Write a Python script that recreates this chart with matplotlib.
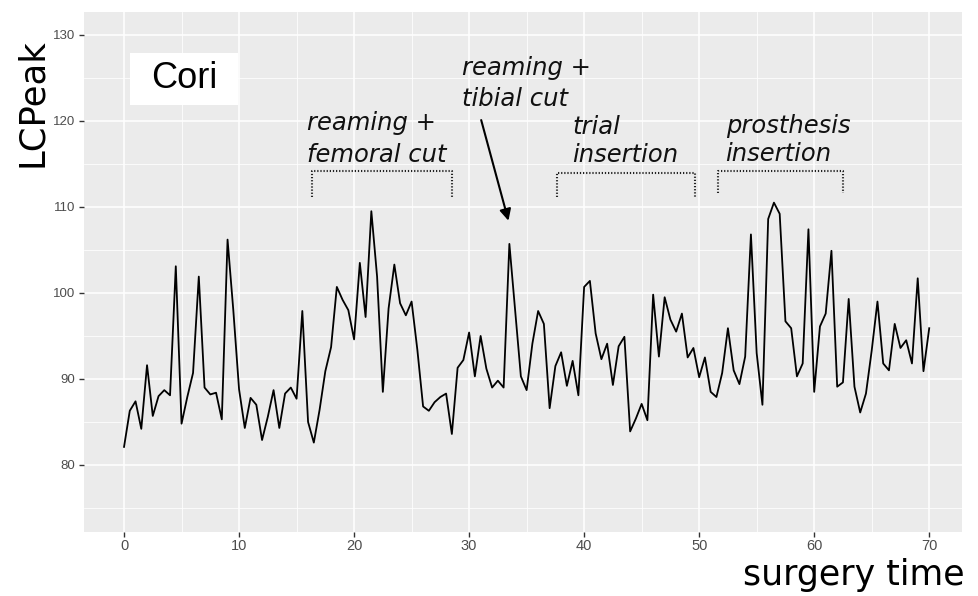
import numpy as np
import matplotlib
matplotlib.use("Agg")
import matplotlib.pyplot as plt
from matplotlib.patches import Rectangle
from matplotlib.ticker import MultipleLocator

# ---------------- data ----------------
surgery_time = np.arange(0, 70.5, 0.5)
lcpeak = [
    82.1, 86.3, 87.4, 84.2, 91.6, 85.7, 88.0, 88.7, 88.1, 103.1,
    84.8, 87.9, 90.7, 101.9, 89.0, 88.2, 88.4, 85.3, 106.2, 98.0,
    88.8, 84.3, 87.8, 87.0, 82.9, 85.6, 88.7, 84.3, 88.3, 89.0,
    87.7, 97.9, 85.0, 82.6, 86.4, 90.9, 93.7, 100.7, 99.2, 98.0,
    94.6, 103.5, 97.2, 109.5, 101.9, 88.5, 98.2, 103.3, 98.8, 97.4,
    99.0, 93.4, 86.8, 86.3, 87.3, 87.9, 88.3, 83.6, 91.3, 92.2,
    95.4, 90.3, 95.0, 91.2, 89.0, 89.8, 89.0, 105.7, 98.0, 90.3,
    88.7, 94.1, 97.9, 96.4, 86.6, 91.5, 93.1, 89.2, 92.1, 88.1,
    100.7, 101.4, 95.3, 92.3, 94.1, 89.3, 93.8, 94.9, 83.9, 85.4,
    87.1, 85.2, 99.8, 92.6, 99.5, 96.9, 95.5, 97.6, 92.5, 93.6,
    90.2, 92.5, 88.5, 87.9, 90.7, 95.9, 91.0, 89.4, 92.6, 106.8,
    93.0, 87.0, 108.6, 110.5, 109.2, 96.7, 95.9, 90.3, 91.8, 107.4,
    88.5, 96.1, 97.6, 104.9, 89.1, 89.6, 99.3, 89.1, 86.1, 88.3,
    93.3, 99.0, 91.8, 91.0, 96.4, 93.6, 94.5, 91.8, 101.7, 90.9,
    95.9,
]

x_ticks = [0, 10, 20, 30, 40, 50, 60, 70]
y_ticks = [80, 90, 100, 110, 120, 130]

# phase brackets: (x_start, x_end, y_top, y_bottom)
phase_names = ["reaming +\nfemoral cut", "trial\ninsertion", "prosthesis\ninsertion"]
bracket_x0 = [16.3, 37.6, 51.6]
bracket_x1 = [28.5, 49.6, 62.5]
bracket_top = [114.2, 114.0, 114.2]
bracket_bottom = [111.2, 111.2, 111.6]
label_x = [15.9, 39.0, 52.3]
label_y = [115.27, 115.27, 115.35]

arrow_label = "reaming +\ntibial cut"
arrow_label_xy = (29.35, 121.74)
arrow_tail = (31.05, 120.1)
arrow_tip = (33.42, 108.4)

panel_label = "Cori"

# ---------------- figure ----------------
fig = plt.figure(figsize=(9.79, 5.96), dpi=100)
ax = fig.add_axes([84 / 979, 1 - 531.7 / 596, (962 - 84) / 979, (531.7 - 11.7) / 596])
ax.set_facecolor("#EBEBEB")
for s in ax.spines.values():
    s.set_visible(False)

ax.set_xlim(-3.48, 72.85)
ax.set_ylim(72.24, 132.7)
ax.xaxis.set_minor_locator(MultipleLocator(5))
ax.yaxis.set_minor_locator(MultipleLocator(5))
ax.set_xticks(x_ticks)
ax.set_yticks(y_ticks)
ax.set_xticklabels([str(v) for v in x_ticks])
ax.set_yticklabels([str(v) for v in y_ticks])
ax.grid(which="major", color="white", lw=1.15)
ax.grid(which="minor", color="white", lw=0.55)
ax.set_axisbelow(True)
ax.tick_params(which="minor", length=0)
ax.tick_params(which="major", length=3.6, width=1.0, color="#333333",
               labelcolor="#4D4D4D")
ax.tick_params(axis="x", pad=2.0, labelsize=10.5)
ax.tick_params(axis="y", pad=3.0, labelsize=9.5)
for lab in ax.get_xticklabels() + ax.get_yticklabels():
    lab.set_family("Liberation Sans")

ax.plot(surgery_time, lcpeak, color="black", lw=1.3, zorder=3)

# phase brackets and labels
spacings = [1.39, 1.21, 1.21]
for x0, x1, yt, yb in zip(bracket_x0, bracket_x1, bracket_top, bracket_bottom):
    ax.plot([x0, x0, x1, x1], [yb, yt, yt, yb], color="#222222", lw=1.5,
            linestyle=(0, (0.6, 0.9)), zorder=3)
for name, lx, ly, ls in zip(phase_names, label_x, label_y, spacings):
    ax.text(lx, ly, name, fontsize=17.5, style="italic", family="DejaVu Sans",
            ha="left", va="baseline", linespacing=ls, color="#111111")

ax.text(arrow_label_xy[0], arrow_label_xy[1], arrow_label, fontsize=17.5,
        style="italic", family="DejaVu Sans", ha="left", va="baseline",
        linespacing=1.39, color="#111111")
ax.annotate("", xy=arrow_tip, xytext=arrow_tail,
            arrowprops=dict(arrowstyle="-|>", lw=1.5, color="black",
                            mutation_scale=17, shrinkA=0, shrinkB=0))

# panel label box
ax.add_patch(Rectangle((0.52, 121.86), 9.39, 6.04, facecolor="white",
                       edgecolor="none", zorder=4))
ax.text(5.2, 124.9, panel_label, fontsize=26, family="Liberation Sans",
        ha="center", va="center", zorder=5)

# axis titles
fig.text(32.5 / 979, 1 - 102.5 / 596, "LCPeak", rotation=90, fontsize=25.5,
         family="DejaVu Sans", ha="center", va="center")
fig.text(965 / 979, 1 - 585 / 596, "surgery time", fontsize=25,
         family="DejaVu Sans", ha="right", va="baseline")

fig.savefig("out.png", dpi=100, facecolor="white")
